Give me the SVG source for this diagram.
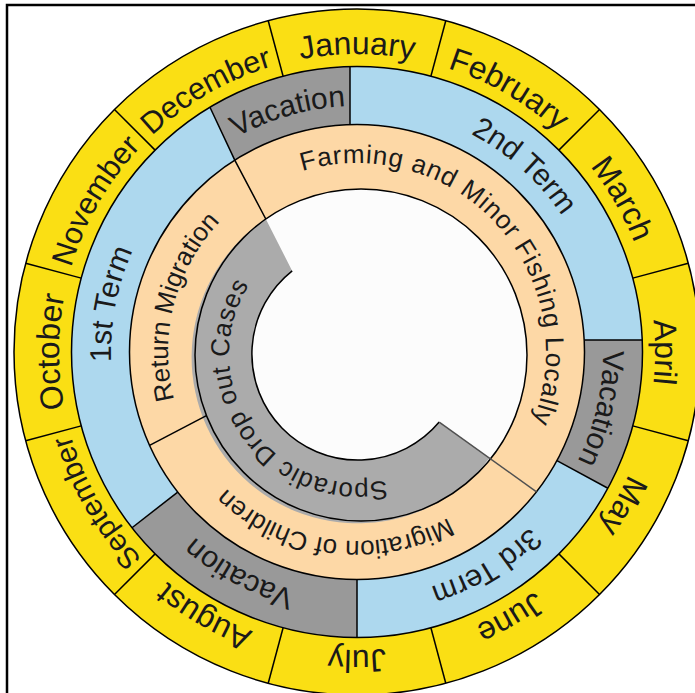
<svg xmlns="http://www.w3.org/2000/svg" xmlns:xlink="http://www.w3.org/1999/xlink" width="695" height="693" viewBox="0 0 695 693">
<style>
.yel{fill:#FADF14}
.blu{fill:#ADD8EE}
.pea{fill:#FDD8A6}
.vac{fill:#999999}
.spo{fill:#ABABAB}
text{font-family:"Liberation Sans",Arial,sans-serif;fill:#1a1a1a;text-anchor:middle}
.mo{font-size:32px}
.mo2{font-size:30.5px}
.bl{font-size:30px}
.pe{font-size:26px}
.sp{font-size:26px;letter-spacing:0.6px}
.ln{stroke:#000;stroke-width:1.5;fill:none}
</style>
<defs>
<path id="msec" d="M -88.78 -331.31 A 343 343 0 0 1 88.78 -331.31 L 73.89 -275.77 A 285.5 285.5 0 0 0 -73.89 -275.77 Z"/>
<path id="marc" d="M -258.08 -149 A 298 298 0 0 1 258.08 -149"/>
<path id="barc" d="M -242.27 -42.72 A 246 246 0 0 1 242.27 -42.72"/>
<path id="parc" d="M -186.13 32.82 A 189 189 0 1 1 186.13 32.82"/>
<path id="sarc" d="M -127.04 22.4 A 129 129 0 1 1 127.04 22.4"/>
</defs>
<rect x="0" y="0" width="695" height="693" fill="#fff"/>
<rect x="7" y="5" width="720" height="720" fill="none" stroke="#000" stroke-width="2.5"/>

<g id="months">
<g id="m-jan" transform="translate(357 352) rotate(0)"><use href="#msec" class="yel"/><text class="mo"><textPath href="#marc" startOffset="50%">January</textPath></text></g>
<g id="m-feb" transform="translate(357 352) rotate(30)"><use href="#msec" class="yel"/><text class="mo"><textPath href="#marc" startOffset="50%">February</textPath></text></g>
<g id="m-mar" transform="translate(357 352) rotate(60)"><use href="#msec" class="yel"/><text class="mo"><textPath href="#marc" startOffset="50%">March</textPath></text></g>
<g id="m-apr" transform="translate(357 352) rotate(90)"><use href="#msec" class="yel"/><text class="mo"><textPath href="#marc" startOffset="50%">April</textPath></text></g>
<g id="m-may" transform="translate(357 352) rotate(120)"><use href="#msec" class="yel"/><text class="mo"><textPath href="#marc" startOffset="50%">May</textPath></text></g>
<g id="m-jun" transform="translate(357 352) rotate(150)"><use href="#msec" class="yel"/><text class="mo"><textPath href="#marc" startOffset="50%">June</textPath></text></g>
<g id="m-jul" transform="translate(357 352) rotate(180)"><use href="#msec" class="yel"/><text class="mo"><textPath href="#marc" startOffset="50%">July</textPath></text></g>
<g id="m-aug" transform="translate(357 352) rotate(210)"><use href="#msec" class="yel"/><text class="mo"><textPath href="#marc" startOffset="50%">August</textPath></text></g>
<g id="m-sep" transform="translate(357 352) rotate(240)"><use href="#msec" class="yel"/><text class="mo2" style="font-size:29.5px"><textPath href="#marc" startOffset="50%">September</textPath></text></g>
<g id="m-oct" transform="translate(357 352) rotate(270)"><use href="#msec" class="yel"/><text class="mo"><textPath href="#marc" startOffset="50%">October</textPath></text></g>
<g id="m-nov" transform="translate(357 352) rotate(300)"><use href="#msec" class="yel"/><text class="mo2"><textPath href="#marc" startOffset="50%">November</textPath></text></g>
<g id="m-dec" transform="translate(357 352) rotate(330)"><use href="#msec" class="yel"/><text class="mo2"><textPath href="#marc" startOffset="50%">December</textPath></text></g>
</g>

<g id="terms">
<g id="term2"><path class="blu" d="M 350 66.6 A 285.5 285.5 0 0 1 642.2 340 L 584.3 340 A 227.5 227.5 0 0 0 350 124.6 Z"/><text class="bl" transform="translate(357 352) rotate(42)"><textPath href="#barc" startOffset="50%">2nd Term</textPath></text></g>
<g id="vac-apr"><path class="vac" d="M 642.2 340 A 285.5 285.5 0 0 1 607.9 488.23 L 556.93 460.55 A 227.5 227.5 0 0 0 584.3 340 Z"/><text class="bl" transform="translate(357 352) rotate(103)"><textPath href="#barc" startOffset="50%">Vacation</textPath></text></g>
<g id="term3"><path class="blu" d="M 607.9 488.23 A 285.5 285.5 0 0 1 357 637.5 L 357 579.5 A 227.5 227.5 0 0 0 556.93 460.55 Z"/><text class="bl" transform="translate(357 352) rotate(149)"><textPath href="#barc" startOffset="50%">3rd Term</textPath></text></g>
<g id="vac-aug"><path class="vac" d="M 357 637.5 A 285.5 285.5 0 0 1 132.02 527.77 L 177.73 492.06 A 227.5 227.5 0 0 0 357 579.5 Z"/><text class="bl" transform="translate(357 352) rotate(208)"><textPath href="#barc" startOffset="50%">Vacation</textPath></text></g>
<g id="term1"><path class="blu" d="M 132.02 527.77 A 285.5 285.5 0 0 1 209.96 107.28 L 234.76 160.13 A 227.5 227.5 0 0 0 177.73 492.06 Z"/><text class="bl" transform="translate(357 352) rotate(281)"><textPath href="#barc" startOffset="50%">1st Term</textPath></text></g>
<g id="vac-dec"><path class="vac" d="M 209.96 107.28 A 285.5 285.5 0 0 1 350 66.6 L 350 124.6 A 227.5 227.5 0 0 0 234.76 160.13 Z"/><text class="bl" transform="translate(357 352) rotate(344)"><textPath href="#barc" startOffset="50%">Vacation</textPath></text></g>
</g>

<g id="activities">
<g id="farming"><path class="pea" d="M 234.76 160.13 A 227.5 227.5 0 0 1 536.5 491.8 L 489.5 458.1 A 166 166 0 0 0 265.8 219 Z"/><text class="pe" style="letter-spacing:0.8px" transform="translate(357 352) rotate(47.5)"><textPath href="#parc" startOffset="50%">Farming and Minor Fishing Locally</textPath></text></g>
<g id="migration"><path class="pea" d="M 536.5 491.8 A 227.5 227.5 0 0 1 149.57 445.44 L 206.4 415.6 A 166 166 0 0 0 489.5 458.1 Z"/><text class="pe" transform="translate(357 352) rotate(187.5)"><textPath href="#parc" startOffset="50%">Migration of Children</textPath></text></g>
<g id="return"><path class="pea" d="M 149.57 445.44 A 227.5 227.5 0 0 1 234.76 160.13 L 265.8 219 A 166 166 0 0 0 206.4 415.6 Z"/><text class="pe" transform="translate(357 352) rotate(284.5)"><textPath href="#parc" startOffset="50%">Return Migration</textPath></text></g>
</g>

<g id="center">
<circle cx="361" cy="355" r="166" fill="#FCFCFC"/>
</g>
<g id="sporadic">
<path class="spo" d="M 489.5 458.1 A 166 166 0 1 1 265.8 219 L 292.2 270.9 A 106 106 0 1 0 439.2 422.1 Z"/>
<text class="sp" transform="translate(358 354) rotate(235)"><textPath href="#sarc" startOffset="50%">Sporadic Drop out Cases</textPath></text>
</g>

<g id="dividers">
<circle class="ln" cx="357" cy="352" r="343"/>
<circle class="ln" cx="357" cy="352" r="285.5"/>
<circle class="ln" cx="357" cy="352" r="227.5"/>
<circle class="ln" cx="361" cy="355" r="166"/>
<path class="ln" d="M 439.2 422.1 A 106 106 0 1 1 292.2 270.9"/>
<g transform="translate(357 352)" class="ln">
<line x1="0" y1="-285.5" x2="0" y2="-343" transform="rotate(15)"/>
<line x1="0" y1="-285.5" x2="0" y2="-343" transform="rotate(45)"/>
<line x1="0" y1="-285.5" x2="0" y2="-343" transform="rotate(75)"/>
<line x1="0" y1="-285.5" x2="0" y2="-343" transform="rotate(105)"/>
<line x1="0" y1="-285.5" x2="0" y2="-343" transform="rotate(135)"/>
<line x1="0" y1="-285.5" x2="0" y2="-343" transform="rotate(165)"/>
<line x1="0" y1="-285.5" x2="0" y2="-343" transform="rotate(195)"/>
<line x1="0" y1="-285.5" x2="0" y2="-343" transform="rotate(225)"/>
<line x1="0" y1="-285.5" x2="0" y2="-343" transform="rotate(255)"/>
<line x1="0" y1="-285.5" x2="0" y2="-343" transform="rotate(285)"/>
<line x1="0" y1="-285.5" x2="0" y2="-343" transform="rotate(315)"/>
<line x1="0" y1="-285.5" x2="0" y2="-343" transform="rotate(345)"/>
</g>
<line class="ln" x1="350" y1="66.6" x2="350" y2="124.6"/>
<line class="ln" x1="584.3" y1="340" x2="642.2" y2="340"/>
<line class="ln" x1="556.93" y1="460.55" x2="607.9" y2="488.23"/>
<line class="ln" x1="357" y1="579.5" x2="357" y2="637.5"/>
<line class="ln" x1="177.73" y1="492.06" x2="132.02" y2="527.77"/>
<polyline class="ln" points="209.96,107.28 234.76,160.13 265.8,219"/>
<line class="ln" x1="149.57" y1="445.44" x2="206.4" y2="415.6"/>
<line x1="439.2" y1="422.1" x2="536.5" y2="491.8" stroke="#505050" stroke-width="1.5"/>
</g>
</svg>
